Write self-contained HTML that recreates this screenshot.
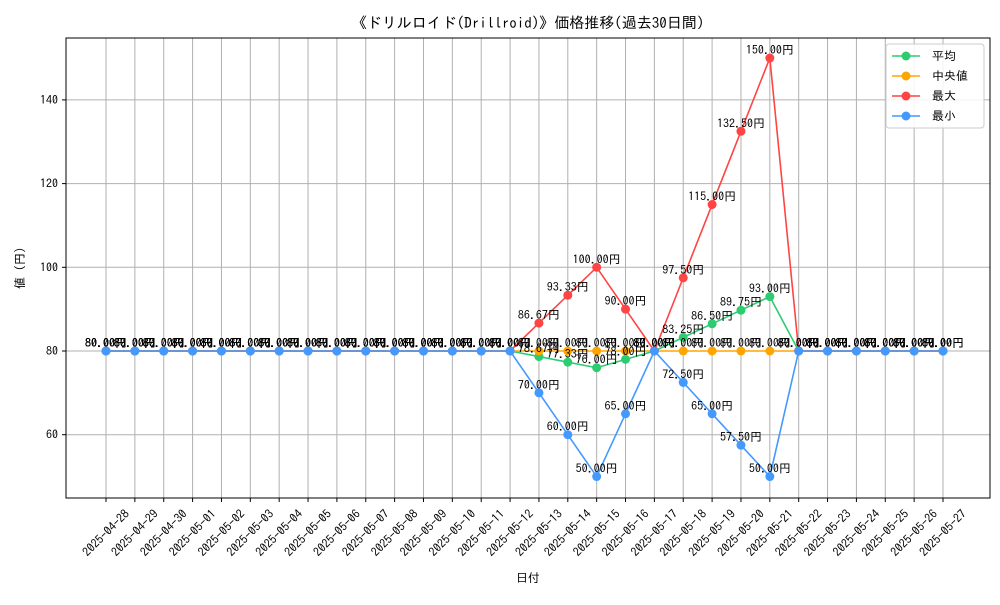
<!DOCTYPE html>
<html><head><meta charset="utf-8"><style>
body{margin:0;background:#fff}
svg text{font-family:"IPAGothic","Liberation Sans","Noto Sans CJK JP",sans-serif;fill:#000}
</style></head><body>
<svg id="chart" width="1000" height="600" xmlns="http://www.w3.org/2000/svg">
<rect width="1000" height="600" fill="#fff"/>
<text x="528" y="28" font-size="15" text-anchor="middle">《ドリルロイド(Drillroid)》価格推移(過去30日間)</text>
<g id="grid"></g>
<g id="series"></g>
<g id="labels"></g>
<rect x="66" y="38" width="924" height="460" fill="none" stroke="#000" stroke-width="1"/>
<g id="axes"></g>
<text x="528" y="582" font-size="12" text-anchor="middle">日付</text>
<text x="0" y="0" font-size="12" text-anchor="middle" transform="translate(24,268) rotate(-90)">値 (円)</text>
<g>
<rect x="886" y="44" width="98" height="84" rx="3" fill="#fff" fill-opacity="0.85" stroke="#ccc"/>
<g id="legend-items"></g>
</g>
</svg>
<script>
const dates = ["2025-04-28","2025-04-29","2025-04-30","2025-05-01","2025-05-02","2025-05-03","2025-05-04","2025-05-05","2025-05-06","2025-05-07","2025-05-08","2025-05-09","2025-05-10","2025-05-11","2025-05-12","2025-05-13","2025-05-14","2025-05-15","2025-05-16","2025-05-17","2025-05-18","2025-05-19","2025-05-20","2025-05-21","2025-05-22","2025-05-23","2025-05-24","2025-05-25","2025-05-26","2025-05-27"];
const meanVals = [80,80,80,80,80,80,80,80,80,80,80,80,80,80,80,78.67,77.33,76,78,80,83.25,86.5,89.75,93,80,80,80,80,80,80];
const medianVals = [80,80,80,80,80,80,80,80,80,80,80,80,80,80,80,80,80,80,80,80,80,80,80,80,80,80,80,80,80,80];
const maxVals = [80,80,80,80,80,80,80,80,80,80,80,80,80,80,80,86.67,93.33,100,90,80,97.5,115,132.5,150,80,80,80,80,80,80];
const minVals = [80,80,80,80,80,80,80,80,80,80,80,80,80,80,80,70,60,50,65,80,72.5,65,57.5,50,80,80,80,80,80,80];
const yTicks = [60,80,100,120,140];
const seriesNames = ["平均","中央値","最大","最小"];

const NS="http://www.w3.org/2000/svg";
function mk(t,a,p){const e=document.createElementNS(NS,t);for(const k in a)e.setAttribute(k,a[k]);p.appendChild(e);return e;}
function xS(i){return 106+i*(837/(dates.length-1));}
function yS(v){return 351-(v-80)*4.185;}
const grid=document.getElementById('grid'),axes=document.getElementById('axes');
dates.forEach((d,i)=>{
  const x=xS(i);
  const l=mk('line',{x1:x,x2:x,y1:38,y2:498,stroke:'#b0b0b0','stroke-width':1},grid);
  
  
  mk('line',{x1:x,x2:x,y1:498,y2:502,stroke:'#000'},axes);
  const t=mk('text',{x:0,y:4,'font-size':12,'text-anchor':'middle',transform:`translate(${x},${533}) rotate(-45)`},axes);
  t.textContent=d;
  
  
});
yTicks.forEach(v=>{
  const y=yS(v);
  const l=mk('line',{x1:66,x2:990,y1:y,y2:y,stroke:'#b0b0b0','stroke-width':1},grid);
  
  
  mk('line',{x1:62,x2:66,y1:y,y2:y,stroke:'#000'},axes);
  const t=mk('text',{x:58,y:y+4,'font-size':12,'text-anchor':'end'},axes);
  t.textContent=v;
  
  
});
const all=[[meanVals,'#2ecc71','mean'],[medianVals,'#ffa500','median'],[maxVals,'#ff4444','max'],[minVals,'#4499ff','min']];
const sg=document.getElementById('series'),lg=document.getElementById('labels');
all.forEach(([vals,c,n])=>{
  const g=mk('g',{},sg);
  
  
  const pl=mk('polyline',{points:vals.map((v,i)=>xS(i)+','+yS(v)).join(' '),fill:'none',stroke:c,'stroke-width':1.6},g);
  
  
  vals.forEach((v,i)=>{
    const p=mk('circle',{cx:xS(i),cy:yS(v),r:4.5,fill:c},g);
    
    
    const t=mk('text',{x:xS(i),y:yS(v)-4,'font-size':12,'text-anchor':'middle'},lg);
    t.textContent=v.toFixed(2)+'円';
    
    
  });
});
const li=document.getElementById('legend-items');
all.forEach(([v,c,n],k)=>{
  const y=56+k*20;
  const g=mk('g',{},li);
  
  
  mk('line',{x1:892,x2:920,y1:y,y2:y,stroke:c,'stroke-width':1.6},g);
  mk('circle',{cx:906,cy:y,r:4.5,fill:c},g);
  const t=mk('text',{x:932,y:y+4,'font-size':12},g);
  t.textContent=seriesNames[k];
});
</script>
</body></html>
